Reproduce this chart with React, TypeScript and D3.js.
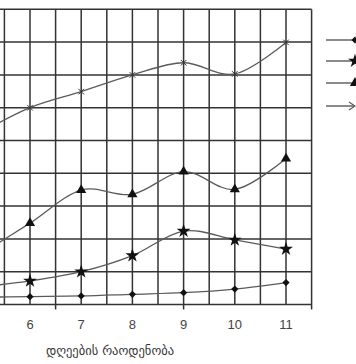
import React from "react";
import * as d3 from "d3";

const days = [5, 6, 7, 8, 9, 10, 11];
const seriesDiamond = [2.2, 2.4, 2.6, 3.1, 3.6, 4.7, 6.7];
const seriesStar = [5.3, 7.2, 10.0, 14.9, 22.4, 19.7, 16.9];
const seriesTriangle = [15, 24.8, 34.9, 33.6, 40.5, 35.1, 44.5];
const seriesCross = [52, 60.0, 64.9, 70.0, 73.7, 70.3, 79.9];
const tickLabels = ["6", "7", "8", "9", "10", "11"];
const tickValues = [6, 7, 8, 9, 10, 11];
const gridX = [5.5, 6, 6.5, 7, 7.5, 8, 8.5, 9, 9.5, 10, 10.5, 11, 11.5];
const gridY = [0, 10, 20, 30, 40, 50, 60, 70, 80, 90];
const longTicks = [6.5, 9, 11.5];
const xTitle = "დღეების რაოდენობა";

const W = 356;
const H = 364;

export default function App() {
  const x = d3.scaleLinear().domain([6, 11]).range([30, 286]);
  const y = d3.scaleLinear().domain([0, 90]).range([304.5, 9.3]);
  const line = d3
    .line<[number, number]>()
    .x((d) => x(d[0]))
    .y((d) => y(d[1]))
    .curve(d3.curveCardinal.tension(0));

  const series = [
    { vals: seriesDiamond, sym: d3.symbolSquare, size: 26, rot: 45, legendY: 40 },
    { vals: seriesStar, sym: d3.symbolStar, size: 60, rot: 0, legendY: 61 },
    { vals: seriesTriangle, sym: d3.symbolTriangle, size: 45, rot: 0, legendY: 83 },
    { vals: seriesCross, sym: d3.symbolX, size: 22, rot: 0, legendY: 106 },
  ];

  const gridColor = "#333";
  const lineColor = "#5a5a5a";

  return (
    <svg
      width={W}
      height={H}
      style={{ position: "absolute", left: 0, top: 0, background: "#fff" }}
    >
      <defs>
        <clipPath id="plot">
          <rect x={0} y={0} width={312} height={310} />
        </clipPath>
      </defs>
      {gridY.map((v) => (
        <line
          key={"gy" + v}
          x1={0}
          x2={x(11.5)}
          y1={y(v)}
          y2={y(v)}
          stroke={gridColor}
          strokeWidth={1.5}
        />
      ))}
      {gridX.map((v) => (
        <line
          key={"gx" + v}
          x1={x(v)}
          x2={x(v)}
          y1={y(90)}
          y2={longTicks.includes(v) ? y(0) + 5 : y(0)}
          stroke={gridColor}
          strokeWidth={1.5}
        />
      ))}
      <g clipPath="url(#plot)">
        {series.map((s, i) => {
          const pts: [number, number][] = days.map((d, j) => [d, s.vals[j]]);
          return (
            <g key={"s" + i}>
              <path
                d={line(pts) || ""}
                fill="none"
                stroke={lineColor}
                strokeWidth={1.3}
              />
              {pts.map((p, j) => (
                <path
                  key={j}
                  d={d3.symbol().type(s.sym).size(s.size)() || ""}
                  transform={`translate(${x(p[0])},${y(p[1])}) rotate(${s.rot})`}
                  fill={i === 3 ? "none" : "#111"}
                  stroke={i === 3 ? "#333" : "none"}
                  strokeWidth={1}
                />
              ))}
            </g>
          );
        })}
      </g>
      {series.map((s, i) => (
        <g key={"lg" + i}>
          <line
            x1={326}
            x2={354}
            y1={s.legendY}
            y2={s.legendY}
            stroke={lineColor}
            strokeWidth={1.4}
          />
          {i < 3 ? (
            <path
              d={d3.symbol().type(s.sym).size(s.size)() || ""}
              transform={`translate(${355},${s.legendY}) rotate(${s.rot})`}
              fill="#111"
            />
          ) : (
            <path
              d={`M${349},${s.legendY - 4}L${355},${s.legendY}L${349},${s.legendY + 4}`}
              fill="none"
              stroke={lineColor}
              strokeWidth={1.2}
            />
          )}
        </g>
      ))}
      {tickValues.map((v, i) => (
        <text
          key={"t" + v}
          x={x(v)}
          y={329}
          textAnchor="middle"
          fontFamily="Liberation Sans, Arial, sans-serif"
          fontSize={13}
          fill="#444"
        >
          {tickLabels[i]}
        </text>
      ))}
      <text
        x={110}
        y={355}
        textAnchor="middle"
        fontFamily="DejaVu Sans, sans-serif"
        fontSize={12.5}
        fill="#333"
      >
        {xTitle}
      </text>
    </svg>
  );
}
